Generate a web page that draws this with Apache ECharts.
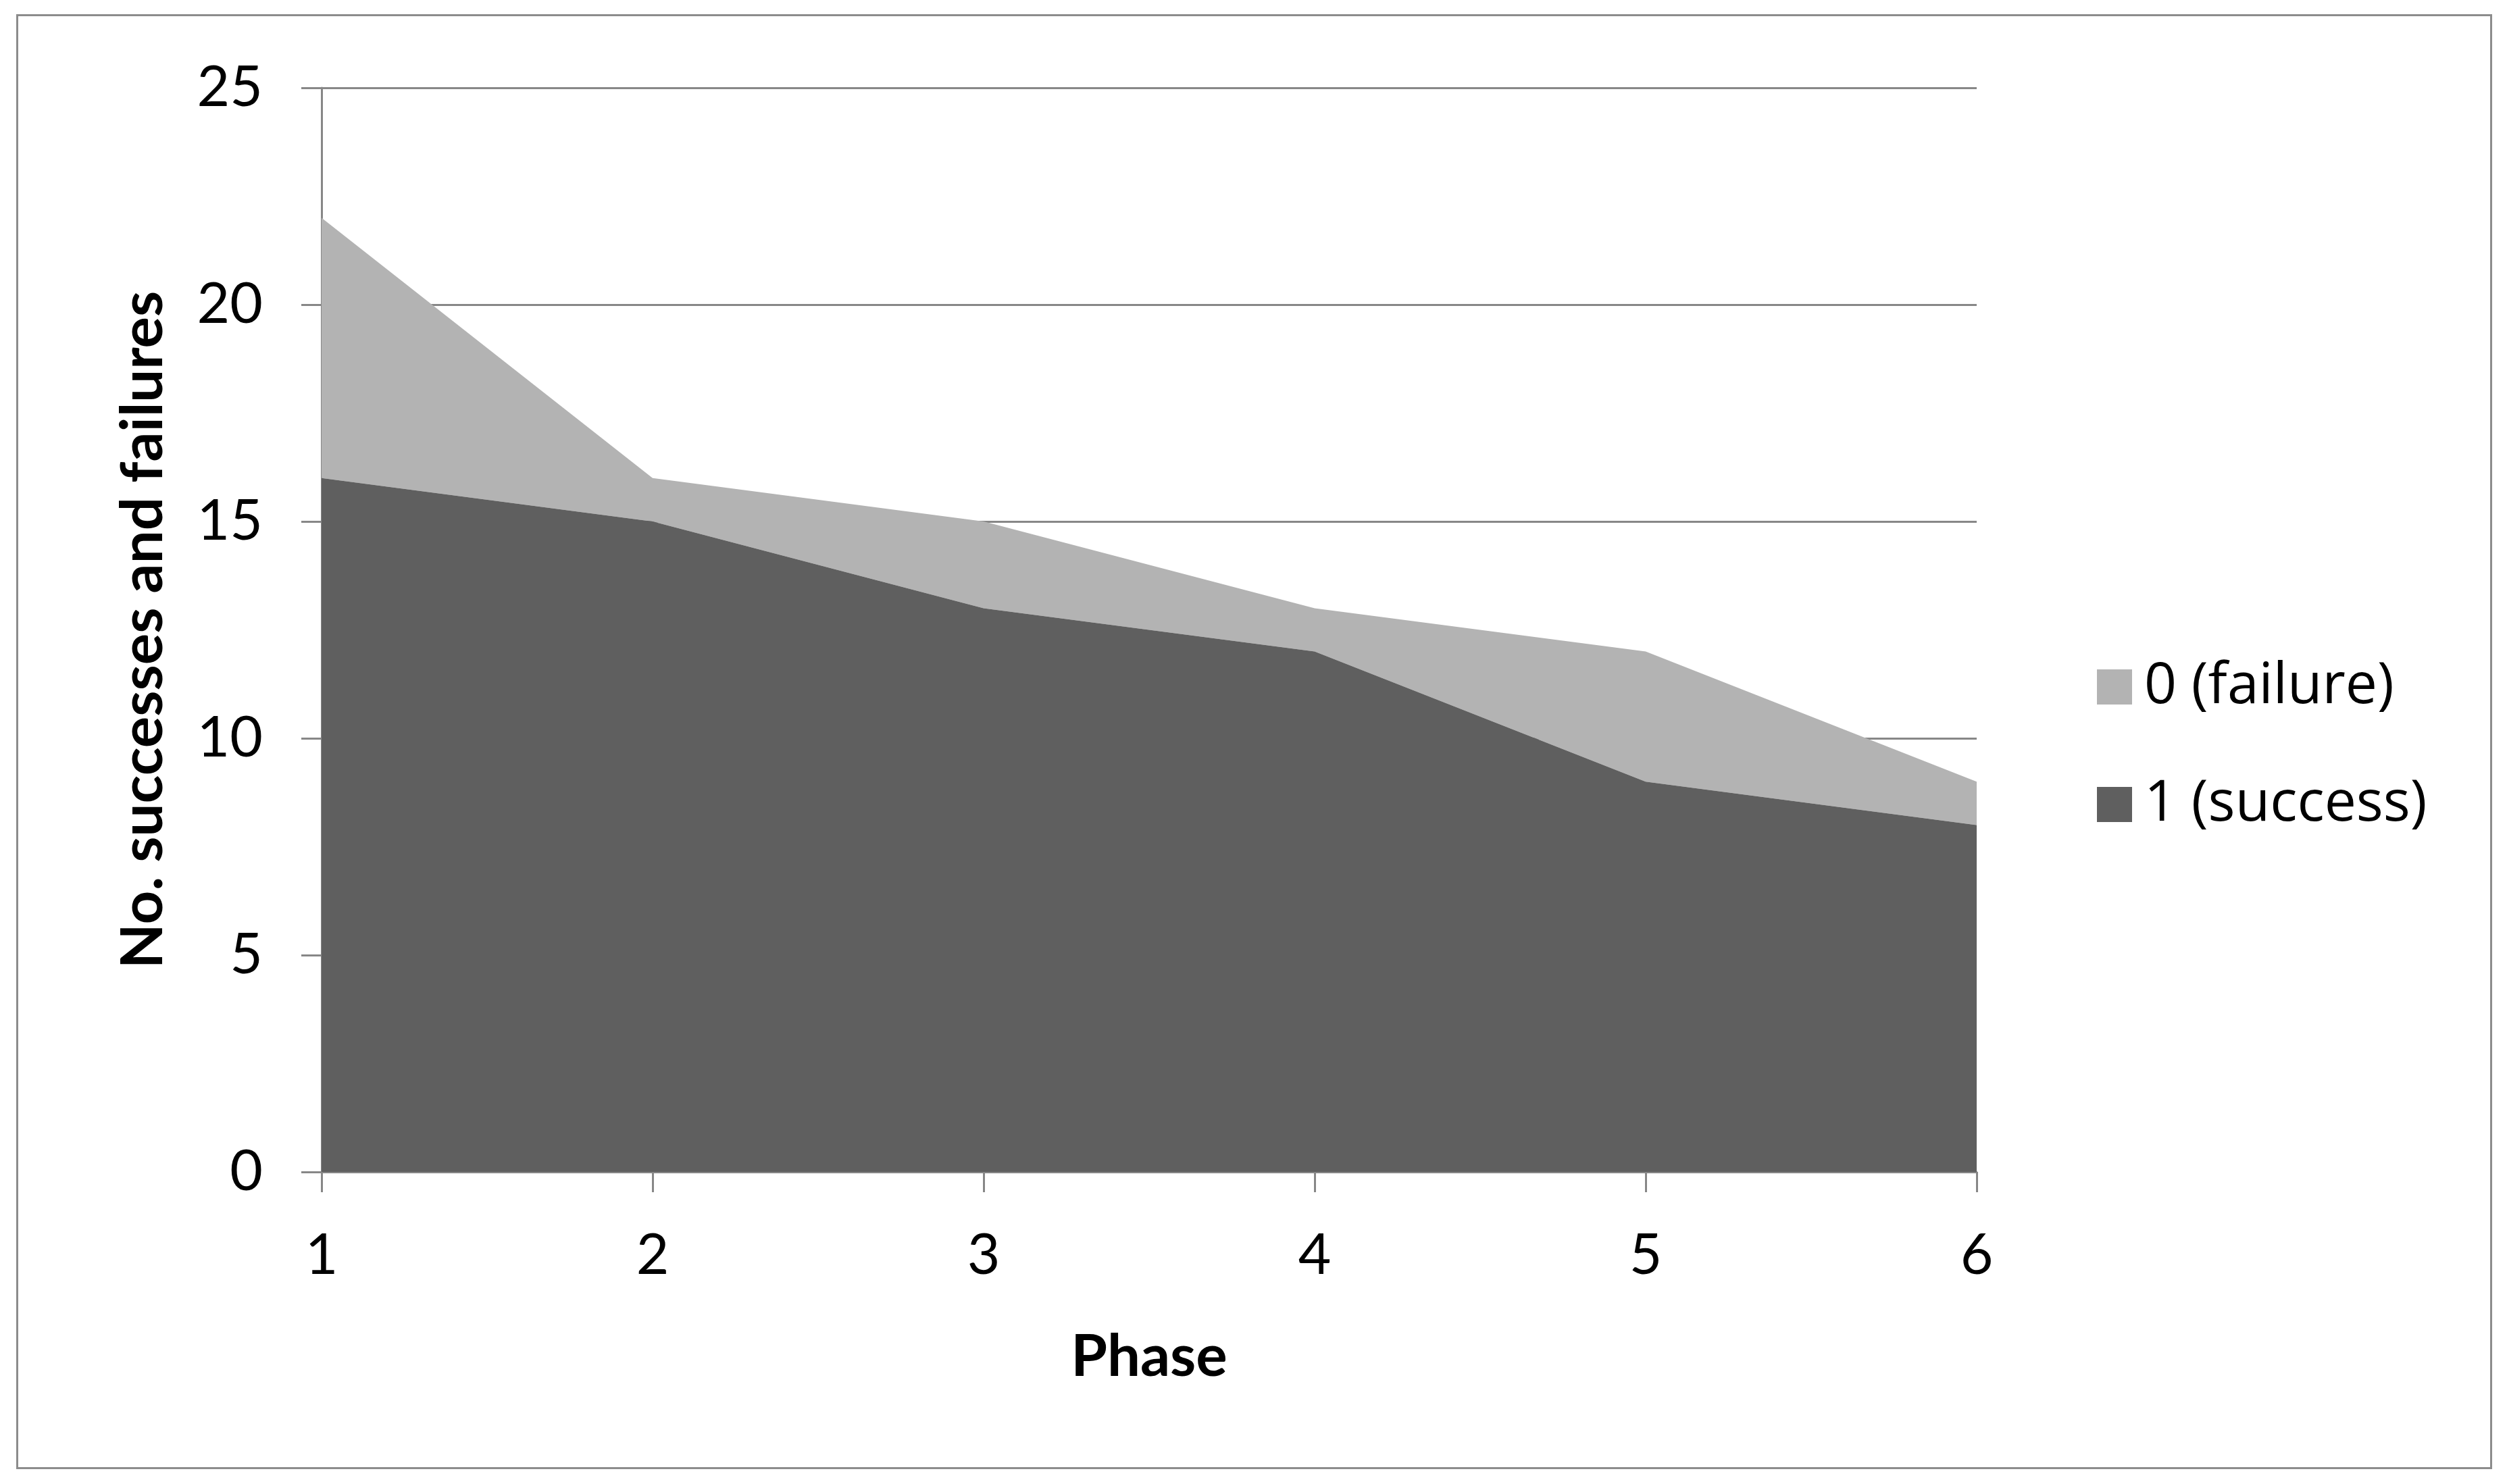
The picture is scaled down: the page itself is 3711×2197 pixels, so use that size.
<!DOCTYPE html>
<html>
<head>
<meta charset="utf-8">
<script src="https://cdn.jsdelivr.net/npm/echarts@6/dist/echarts.min.js"></script>
<style>
html,body{margin:0;padding:0;background:#fff;}
#frame{position:absolute;left:24px;top:21px;width:3665px;height:2154px;border:3px solid #8c8c8c;box-sizing:border-box;}
#chart{position:absolute;left:0;top:0;width:3711px;height:2197px;}
</style>
</head>
<body>
<div id="frame"></div>
<div id="chart"></div>
<script>
const phases = ['1', '2', '3', '4', '5', '6'];
const successValues = [16, 15, 13, 12, 9, 8];
const failureValues = [6, 1, 2, 1, 3, 1];
const seriesNames = ['0 (failure)', '1 (success)'];
const yTicks = { min: 0, max: 25, interval: 5 };

const FONT = 'Lato';
const chart = echarts.init(document.getElementById('chart'), null, { renderer: 'canvas' });
const axisGray = '#878787';
chart.setOption({
  backgroundColor: 'transparent',
  animation: false,
  grid: { left: 476, top: 130, width: 2450, height: 1605, containLabel: false },
  legend: {
    orient: 'vertical',
    left: 3099,
    top: 970,
    itemWidth: 52,
    itemHeight: 52,
    itemGap: 90,
    icon: 'rect',
    data: [seriesNames[0], seriesNames[1]],
    textStyle: { fontFamily: 'Open Sans', fontSize: 84, color: '#000', padding: [0, 0, 0, 13], lineHeight: 52 }
  },
  xAxis: {
    type: 'category',
    data: phases,
    boundaryGap: false,
    name: 'Phase',
    nameLocation: 'middle',
    nameGap: 230,
    nameTextStyle: { fontFamily: FONT, fontSize: 87, fontWeight: 'bold', color: '#000' },
    axisLine: { lineStyle: { color: axisGray, width: 3 } },
    axisTick: { show: true, length: 30, alignWithLabel: true, lineStyle: { color: axisGray, width: 3 } },
    axisLabel: { fontFamily: FONT, fontSize: 84, color: '#000', margin: 82 },
    splitLine: { show: false }
  },
  yAxis: {
    type: 'value',
    min: yTicks.min,
    max: yTicks.max,
    interval: yTicks.interval,
    name: 'No. successes and failures',
    nameLocation: 'middle',
    nameRotate: 90,
    nameGap: 221,
    nameTextStyle: { fontFamily: FONT, fontSize: 87, fontWeight: 'bold', color: '#000' },
    axisLine: { show: true, lineStyle: { color: axisGray, width: 3 } },
    axisTick: { show: true, length: 30, lineStyle: { color: axisGray, width: 3 } },
    axisLabel: { fontFamily: FONT, fontSize: 84, color: '#000', margin: 87 },
    splitLine: { show: true, lineStyle: { color: axisGray, width: 3 } }
  },
  series: [
    {
      name: seriesNames[1],
      type: 'line',
      stack: 'total',
      data: successValues,
      symbol: 'none',
      lineStyle: { width: 0 },
      itemStyle: { color: '#5f5f5f' },
      areaStyle: { color: '#5f5f5f', opacity: 1 },
      z: 3
    },
    {
      name: seriesNames[0],
      type: 'line',
      stack: 'total',
      data: failureValues,
      symbol: 'none',
      lineStyle: { width: 0 },
      itemStyle: { color: '#b3b3b3' },
      areaStyle: { color: '#b3b3b3', opacity: 1 },
      z: 2
    }
  ]
});
</script>
</body>
</html>
